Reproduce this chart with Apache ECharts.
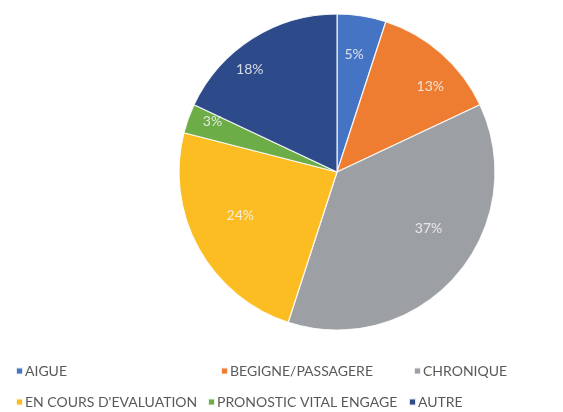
<!DOCTYPE html>
<html>
<head>
<meta charset="utf-8">
<script src="https://cdn.jsdelivr.net/npm/echarts@6/dist/echarts.min.js"></script>
<style>
  html, body { margin: 0; padding: 0; background: #ffffff; }
  #chart { width: 563px; height: 412px; }
</style>
</head>
<body>
<div id="chart"></div>
<script>
// Categories and their shares (percent)
const categories = ['AIGUE', 'BEGIGNE/PASSAGERE', 'CHRONIQUE', "EN COURS D'EVALUATION", 'PRONOSTIC VITAL ENGAGE', 'AUTRE'];
const shares = [5, 13, 37, 24, 3, 18];
const colors = ['#4674c4', '#ee7d32', '#9c9fa4', '#fcbd22', '#6dad48', '#2d4a8b'];

// Legend placement: [left, top] per category (two rows)
const legendSlots = [[15, 364], [220, 364], [413, 364], [15, 395], [207, 395], [408, 395]];

// Label placement inside each slice: [fraction of radius, angular nudge in degrees]
const labelPlacement = [[0.75, -0.7], [0.80, 6.2], [0.68, -9.8], [0.67, 4.8], [0.85, 2.2], [0.85, -8.1]];

const CX = 337, CY = 172, R = 158;

const total = shares.reduce((a, b) => a + b, 0);
const midAngles = [];
let acc = 0;
shares.forEach(v => {
  midAngles.push((acc + v / 2) / total * Math.PI * 2);
  acc += v;
});

const chart = echarts.init(document.getElementById('chart'), null, { renderer: 'canvas' });

const legends = categories.map((name, i) => ({
  data: [name],
  left: legendSlots[i][0],
  top: legendSlots[i][1],
  padding: 0,
  icon: 'rect',
  itemWidth: 7,
  itemHeight: 7,
  itemGap: 0,
  selectedMode: false,
  textStyle: { color: '#595959', fontSize: 14, fontFamily: 'Lato', padding: [0, 0, 0, -3] }
}));

chart.setOption({
  animation: false,
  color: colors,
  legend: legends,
  series: [{
    type: 'pie',
    center: [CX, CY],
    radius: [0, R],
    startAngle: 90,
    clockwise: true,
    data: categories.map((name, i) => ({ name, value: shares[i] })),
    itemStyle: { borderColor: 'rgba(255,255,255,0.85)', borderWidth: 1.2 },
    label: {
      show: true,
      position: 'inside',
      formatter: p => p.value + '%',
      color: 'rgba(245,245,245,0.85)',
      fontSize: 14,
      fontFamily: 'Lato'
    },
    labelLine: { show: false },
    labelLayout: p => {
      const place = labelPlacement[p.dataIndex];
      const a = midAngles[p.dataIndex] + place[1] * Math.PI / 180;
      return {
        x: CX + Math.sin(a) * R * place[0],
        y: CY - Math.cos(a) * R * place[0],
        align: 'center',
        verticalAlign: 'middle'
      };
    },
    emphasis: { disabled: true }
  }]
});
</script>
</body>
</html>
